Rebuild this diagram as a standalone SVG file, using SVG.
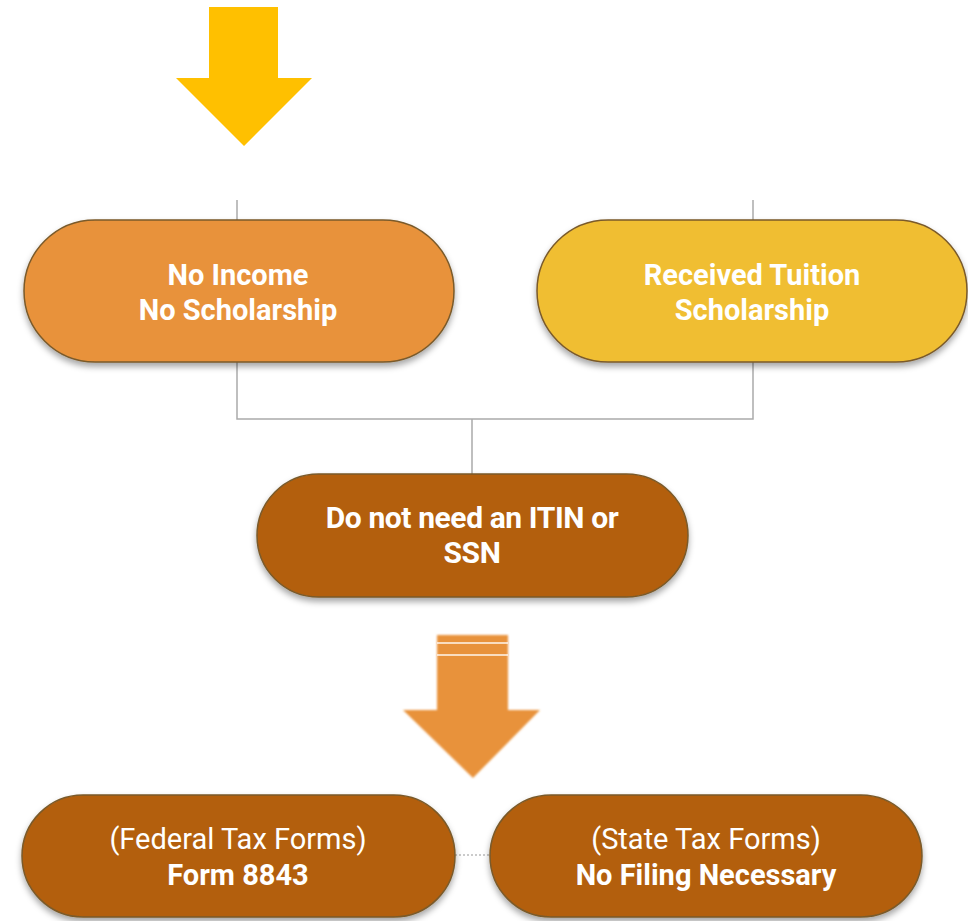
<svg xmlns="http://www.w3.org/2000/svg" width="968" height="921" viewBox="0 0 968 921">
<defs>
<filter id="sh" x="-10%" y="-20%" width="120%" height="150%">
<feDropShadow dx="0" dy="4" stdDeviation="3" flood-color="#000" flood-opacity="0.35"/>
</filter>
<filter id="ash" x="-20%" y="-20%" width="140%" height="140%">
<feGaussianBlur stdDeviation="1"/>
</filter>
</defs>
<style>
.pill{stroke:#7a5a2a;stroke-width:1.5;filter:url(#sh)}
.t{font-family:Roboto,"Liberation Sans",sans-serif;fill:#fff;text-anchor:middle;font-size:29px}
.b{font-weight:bold}
.c{fill:none;stroke:#aaaaaa;stroke-width:1.5}
</style>
<rect width="968" height="921" fill="#fff"/>
<g id="arrow-top">
<polygon points="209,7 278,7 278,78 312,78 244,146 176,78 209,78" fill="#FFC000"/>
</g>
<g id="connectors">
<line class="c" x1="237" y1="200" x2="237" y2="220"/>
<line class="c" x1="753" y1="200" x2="753" y2="220"/>
<polyline class="c" points="237,362 237,419 753,419 753,362"/>
<line class="c" x1="472" y1="419" x2="472" y2="474"/>
<line x1="455" y1="855" x2="490" y2="855" stroke="#bbbbbb" stroke-width="1.5" stroke-dasharray="2,2"/>
</g>
<g id="node-no-income">
<rect class="pill" x="24" y="220" width="430" height="142" rx="71" fill="#E8923A"/>
<text class="t b" x="238" y="285">No Income</text>
<text class="t b" x="238" y="320">No Scholarship</text>
</g>
<g id="node-tuition">
<rect class="pill" x="537" y="220" width="430" height="142" rx="71" fill="#F0BE32"/>
<text class="t b" x="752" y="285">Received Tuition</text>
<text class="t b" x="752" y="320">Scholarship</text>
</g>
<g id="node-itin">
<rect class="pill" x="257" y="474" width="431" height="123" rx="61.5" fill="#B35F0E"/>
<text class="t b" x="472" y="528" style="font-size:30px;letter-spacing:-0.4px">Do not need an ITIN or</text>
<text class="t b" x="472" y="563" style="font-size:30px;letter-spacing:-0.4px">SSN</text>
</g>
<g id="arrow-mid">
<polygon points="437,635 508,635 508,710 540,710 473,778 403,710 437,710" fill="#E8923A" filter="url(#ash)"/>
<line x1="437" y1="643" x2="508" y2="643" stroke="#fff6ee" stroke-width="1.5"/>
<line x1="437" y1="655" x2="508" y2="655" stroke="#fff6ee" stroke-width="1.5"/>
</g>
<g id="node-federal">
<rect class="pill" x="22" y="795" width="433" height="122" rx="61" fill="#B35F0E"/>
<text class="t" x="238" y="849">(Federal Tax Forms)</text>
<text class="t b" x="238" y="885">Form 8843</text>
</g>
<g id="node-state">
<rect class="pill" x="490" y="795" width="432" height="122" rx="61" fill="#B35F0E"/>
<text class="t" x="706" y="849">(State Tax Forms)</text>
<text class="t b" x="706" y="885">No Filing Necessary</text>
</g>
</svg>
